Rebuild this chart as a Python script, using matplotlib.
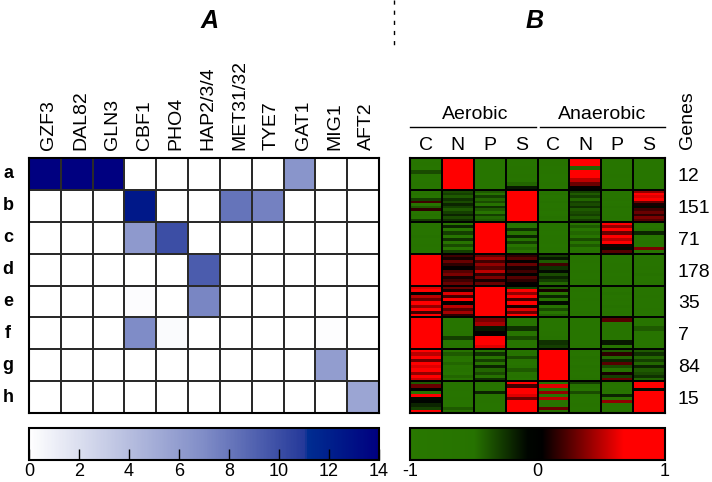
import numpy as np
import matplotlib
matplotlib.use("Agg")
import matplotlib.pyplot as plt
from matplotlib.colors import LinearSegmentedColormap, Normalize
from matplotlib.cm import ScalarMappable
from matplotlib.lines import Line2D

plt.rcParams['font.family'] = ['Liberation Sans', 'DejaVu Sans']
plt.rcParams['axes.unicode_minus'] = False

# panel A: transcription factor enrichment per cluster
factors = ["GZF3", "DAL82", "GLN3", "CBF1", "PHO4", "HAP2/3/4",
           "MET31/32", "TYE7", "GAT1", "MIG1", "AFT2"]
clusters = ["a", "b", "c", "d", "e", "f", "g", "h"]
enrichment = [
    [14, 14, 14, 0, 0, 0, 0, 0, 6.5, 0, 0],
    [0, 0, 0, 12.5, 0, 0, 8.2, 7.5, 0, 0, 0],
    [0, 0, 0, 6.2, 10, 0, 0, 0, 0, 0, 0],
    [0, 0, 0, 0, 0, 9.3, 0, 0, 0, 0, 0],
    [0, 0, 0, 0.2, 0, 7.3, 0, 0, 0, 0, 0],
    [0, 0, 0, 7, 0.3, 0, 0, 0, 0, 0.15, 0],
    [0, 0, 0, 0, 0, 0, 0, 0, 0, 6, 0],
    [0, 0, 0, 0, 0, 0, 0, 0, 0, 0, 5.5],
]

# panel B: expression profiles (log ratio), rows sampled within each cluster
conditions = ["C", "N", "P", "S", "C", "N", "P", "S"]
gene_counts = [12, 151, 71, 178, 35, 7, 84, 15]

expr_a = [
    [-0.70, 1.00, -0.70, -0.60, -0.65, 0.85, -0.70, -0.70],
    [-0.65, 1.00, -0.70, -0.60, -0.60, 1.00, -0.70, -0.70],
    [-0.70, 1.00, -0.70, -0.55, -0.70, -0.45, -0.70, -0.70],
    [-0.35, 1.00, -0.70, -0.60, -0.65, 0.90, -0.70, -0.70],
    [-0.60, 0.95, -0.70, -0.55, -0.70, 0.70, -0.65, -0.70],
    [-0.70, 1.00, -0.70, -0.60, -0.70, 0.50, -0.70, -0.70],
    [-0.65, 1.00, -0.70, -0.45, -0.65, 0.30, -0.70, -0.70],
    [-0.70, 0.95, -0.70, -0.15, -0.70, 0.05, -0.70, -0.70],
]
expr_b = [
    [-0.60, -0.35, -0.40, 1.00, -0.60, -0.30, -0.60, 0.40],
    [-0.50, -0.30, -0.50, 1.00, -0.55, -0.40, -0.65, 0.80],
    [-0.70, -0.40, -0.30, 1.00, -0.70, -0.30, -0.60, 0.60],
    [-0.30, -0.25, -0.45, 1.00, -0.60, -0.45, -0.55, 0.90],
    [0.20, -0.35, -0.35, 1.00, -0.50, -0.30, -0.70, 0.30],
    [-0.60, -0.20, -0.50, 1.00, -0.65, -0.35, -0.60, 0.10],
    [-0.40, -0.30, -0.25, 1.00, -0.60, -0.25, -0.50, -0.10],
    [0.15, -0.40, -0.40, 1.00, -0.55, -0.40, -0.60, 0.20],
    [-0.60, -0.30, -0.55, 1.00, -0.70, -0.35, -0.65, 0.30],
    [-0.50, -0.20, -0.30, 1.00, -0.60, -0.30, -0.60, 0.15],
    [-0.65, -0.35, -0.45, 1.00, -0.50, -0.40, -0.55, 0.35],
    [-0.30, -0.25, -0.40, 1.00, -0.60, -0.30, -0.60, 0.25],
]
expr_c = [
    [-0.60, -0.55, 1.00, -0.50, -0.60, -0.55, 0.80, -0.55],
    [-0.55, -0.20, 1.00, -0.60, -0.65, -0.40, 0.40, -0.60],
    [-0.65, -0.60, 1.00, -0.25, -0.60, -0.60, 0.90, -0.50],
    [-0.60, -0.30, 1.00, -0.55, -0.70, -0.45, 0.30, -0.20],
    [-0.50, -0.60, 1.00, -0.20, -0.60, -0.60, 0.85, -0.60],
    [-0.60, -0.25, 1.00, -0.50, -0.65, -0.35, 0.50, -0.60],
    [-0.60, -0.55, 1.00, -0.30, -0.60, -0.55, 0.95, -0.55],
    [-0.55, -0.35, 1.00, -0.55, -0.70, -0.40, 0.10, -0.60],
    [-0.65, -0.60, 1.00, -0.45, -0.60, -0.60, -0.10, 0.35],
    [-0.60, -0.30, 1.00, -0.60, -0.65, -0.50, 0.25, -0.60],
]
expr_d = [
    [1.00, 0.20, 0.30, 0.15, -0.30, -0.60, -0.65, -0.60],
    [1.00, 0.10, 0.45, 0.25, -0.15, -0.60, -0.65, -0.55],
    [1.00, 0.30, 0.20, 0.05, -0.40, -0.55, -0.70, -0.60],
    [1.00, 0.15, 0.40, 0.30, 0.20, -0.60, -0.65, -0.60],
    [1.00, 0.05, 0.25, 0.10, -0.25, -0.60, -0.60, -0.55],
    [1.00, 0.25, 0.50, 0.20, -0.10, -0.55, -0.65, -0.60],
    [1.00, 0.35, 0.15, 0.00, -0.35, -0.60, -0.70, -0.50],
    [1.00, 0.10, 0.35, 0.25, -0.20, -0.60, -0.65, -0.60],
    [1.00, 0.20, 0.10, 0.15, -0.30, -0.55, -0.60, -0.60],
    [1.00, 0.30, 0.30, 0.05, -0.45, -0.60, -0.65, -0.55],
]
expr_e = [
    [0.60, 0.30, 1.00, -0.30, -0.40, -0.60, -0.55, -0.60],
    [0.90, 0.10, 1.00, 0.80, 0.10, -0.55, -0.60, -0.60],
    [0.00, 0.60, 1.00, 0.40, -0.60, -0.60, -0.50, -0.60],
    [0.50, 0.20, 1.00, 0.90, -0.20, -0.60, -0.60, -0.55],
    [0.30, 0.70, 0.95, 0.20, -0.50, -0.55, -0.55, -0.60],
    [0.80, 0.05, 1.00, 0.70, -0.10, -0.60, -0.60, -0.60],
    [0.40, 0.50, 1.00, 0.10, -0.55, -0.60, -0.50, -0.60],
    [0.70, 0.25, 1.00, 0.60, -0.35, -0.60, -0.60, -0.55],
    [0.20, 0.45, 1.00, 0.30, -0.60, -0.55, -0.55, -0.60],
    [0.85, 0.15, 1.00, 0.80, -0.45, -0.60, -0.60, -0.60],
]
expr_f = [
    [1.00, -0.60, 0.35, -0.60, -0.65, -0.70, 0.25, -0.65],
    [1.00, -0.60, 0.45, -0.60, -0.60, -0.70, -0.60, -0.60],
    [1.00, -0.60, -0.15, -0.25, -0.60, -0.70, -0.60, -0.40],
    [1.00, -0.55, 0.05, -0.60, -0.55, -0.70, -0.60, -0.60],
    [1.00, -0.30, 0.90, -0.35, -0.50, -0.70, -0.60, -0.60],
    [1.00, -0.70, 1.00, -0.60, -0.25, -0.70, -0.15, -0.60],
    [1.00, -0.60, 0.60, -0.60, -0.30, -0.70, -0.60, -0.60],
]
expr_g = [
    [0.90, -0.55, -0.50, -0.55, 1.00, -0.55, -0.40, -0.40],
    [0.50, -0.40, -0.25, -0.50, 1.00, -0.60, 0.15, -0.25],
    [1.00, -0.55, -0.55, -0.35, 1.00, -0.50, -0.45, -0.45],
    [0.30, -0.60, -0.30, -0.55, 1.00, -0.55, -0.20, -0.30],
    [0.85, -0.45, -0.50, -0.60, 1.00, -0.60, 0.25, -0.45],
    [0.60, -0.55, -0.20, -0.50, 1.00, -0.50, -0.35, -0.20],
    [0.95, -0.50, -0.45, -0.40, 1.00, -0.55, -0.50, -0.40],
    [0.40, -0.60, -0.35, -0.55, 1.00, -0.60, 0.10, -0.35],
    [0.80, -0.45, -0.50, -0.50, 1.00, -0.55, -0.30, -0.25],
    [0.55, -0.55, -0.25, -0.60, 1.00, -0.50, 0.30, -0.45],
]
expr_h = [
    [-0.40, -0.60, -0.55, 0.90, -0.50, -0.30, -0.50, 1.00],
    [0.30, -0.60, -0.60, 0.20, 0.60, -0.50, -0.60, 1.00],
    [0.00, -0.55, -0.60, 1.00, -0.60, -0.60, -0.55, -0.10],
    [-0.55, -0.60, -0.20, 1.00, 0.40, -0.35, -0.60, 1.00],
    [0.90, -0.60, -0.60, 0.60, -0.60, -0.60, -0.20, 1.00],
    [-0.10, -0.55, -0.60, 0.30, 0.50, -0.70, -0.60, 1.00],
    [-0.05, -0.60, -0.55, 1.00, -0.60, -0.60, 0.40, 1.00],
    [-0.20, -0.60, -0.60, 1.00, -0.55, -0.55, -0.55, 1.00],
    [-0.30, -0.40, -0.60, 0.90, 0.30, -0.60, -0.60, 0.90],
    [0.80, -0.60, -0.55, 1.00, -0.60, -0.60, -0.60, 1.00],
]
expression = [expr_a, expr_b, expr_c, expr_d, expr_e, expr_f, expr_g, expr_h]

# colour maps
blues = LinearSegmentedColormap.from_list("blues", [
    (0.0, (1.0, 1.0, 1.0)),
    (0.5, (0.50, 0.55, 0.78)),
    (0.79, (0.14, 0.22, 0.60)),
    (0.795, (0.0, 0.18, 0.57)),
    (1.0, (0.0, 0.0, 0.50)),
])
green_red = LinearSegmentedColormap.from_list("gr", [
    (0.0, (0.16, 0.47, 0.0)),
    (0.25, (0.15, 0.45, 0.0)),
    (0.46, (0.0, 0.02, 0.0)),
    (0.52, (0.0, 0.0, 0.0)),
    (0.84, (1.0, 0.0, 0.0)),
    (1.0, (1.0, 0.0, 0.0)),
])

W, H = 712, 482


def px(x0, y0, x1, y1):
    return [x0 / W, 1 - y1 / H, (x1 - x0) / W, (y1 - y0) / H]


fig = plt.figure(figsize=(W / 100, H / 100), dpi=100)

# ---- panel A
axA = fig.add_axes(px(29, 158, 379, 413))
axA.pcolormesh(np.array(enrichment), cmap=blues, vmin=0, vmax=14,
               edgecolors='#2a2a2a', linewidth=1.2)
axA.set_xlim(0, len(factors))
axA.set_ylim(len(clusters), 0)
axA.set_xticks([])
axA.set_yticks([])
for s in axA.spines.values():
    s.set_linewidth(1.5)
for i, f in enumerate(factors):
    axA.text(i + 0.62, -0.25, f, rotation=90, ha='center', va='bottom', fontsize=14)
for j, c in enumerate(clusters):
    axA.text(-0.66, j + 0.5, c, ha='center', va='center', fontsize=13, fontweight='bold')

# ---- panel B
axB = fig.add_axes(px(410, 158, 665, 413))
for k, rows in enumerate(expression):
    vals = np.array(rows)
    yedges = np.linspace(k, k + 1, vals.shape[0] + 1)
    axB.pcolormesh(np.arange(len(conditions) + 1), yedges, vals,
                   cmap=green_red, vmin=-1, vmax=1, shading='flat')
for x in range(1, len(conditions)):
    axB.axvline(x, color='black', lw=1.4)
for y in range(1, len(clusters)):
    axB.axhline(y, color='black', lw=1.4)
axB.set_xlim(0, len(conditions))
axB.set_ylim(len(clusters), 0)
axB.set_xticks([])
axB.set_yticks([])
for s in axB.spines.values():
    s.set_linewidth(1.5)

for i, c in enumerate(conditions):
    axB.text(i + 0.5, -0.38, c, ha='center', va='center', fontsize=14)
axB.text(2.04, -1.35, "Aerobic", ha='center', va='center', fontsize=14)
axB.text(6.02, -1.35, "Anaerobic", ha='center', va='center', fontsize=14)
axB.plot([0.0, 3.95], [-0.97, -0.97], color='black', lw=1, clip_on=False)
axB.plot([4.08, 8.0], [-0.97, -0.97], color='black', lw=1, clip_on=False)
axB.text(8.72, -1.2, "Genes", rotation=90, ha='center', va='center', fontsize=14)
for k, n in enumerate(gene_counts):
    axB.text(8.4, k + 0.58, str(n), ha='left', va='center', fontsize=14)

# ---- titles and separator
fig.text(210 / W, 1 - 21 / H, "A", ha='center', va='center', fontsize=18,
         fontweight='bold', fontstyle='italic')
fig.text(535 / W, 1 - 21 / H, "B", ha='center', va='center', fontsize=18,
         fontweight='bold', fontstyle='italic')
fig.add_artist(Line2D([394 / W, 394 / W], [1.0, 1 - 50 / H], color='black',
                      lw=1, ls=(0, (3, 4.3))))

# ---- colour bars
caxA = fig.add_axes(px(29, 428, 379, 460))
cbA = fig.colorbar(ScalarMappable(norm=Normalize(0, 14), cmap=blues),
                   cax=caxA, orientation='horizontal')
cbA.set_ticks(list(range(0, 15, 2)))
caxA.tick_params(direction='in', length=8, width=1, labelsize=13, pad=2.5)
cbA.outline.set_linewidth(1.5)

caxB = fig.add_axes(px(410, 428, 665, 460))
cbB = fig.colorbar(ScalarMappable(norm=Normalize(-1, 1), cmap=green_red),
                   cax=caxB, orientation='horizontal')
cbB.set_ticks([-1, 0, 1])
caxB.tick_params(length=0, labelsize=13, pad=2.5)
cbB.outline.set_linewidth(1.5)

fig.savefig("out.png", dpi=100)
